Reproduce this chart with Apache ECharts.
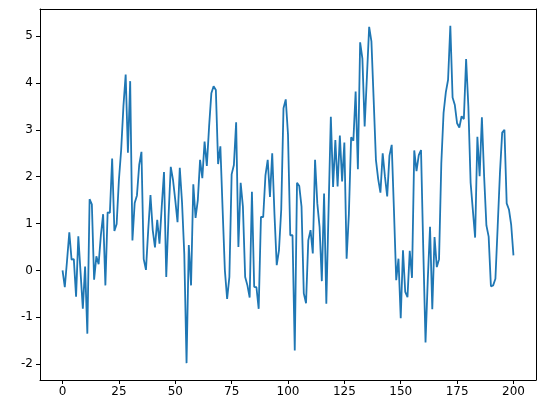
<!DOCTYPE html>
<html>
<head>
<meta charset="utf-8">
<script src="https://cdn.jsdelivr.net/npm/echarts@6/dist/echarts.min.js"></script>
<style>html,body{margin:0;padding:0;background:#fff}#c{width:546px;height:413px}</style>
</head>
<body>
<div id="c"></div>
<script>
const values = [
 0.0,-0.36,0.21,0.81,0.23,0.24,-0.56,0.73,-0.05,-0.82,
 0.08,-1.35,1.52,1.41,-0.2,0.3,0.13,0.75,1.2,-0.32,
 1.24,1.23,2.39,0.84,0.99,1.93,2.57,3.5,4.18,2.51,
 4.04,0.64,1.44,1.6,2.25,2.53,0.24,0.01,0.86,1.61,
 0.86,0.49,1.08,0.57,1.36,2.1,-0.14,1.14,2.21,1.93,
 1.5,1.03,2.19,1.45,0.35,-1.98,0.54,-0.32,1.84,1.12,
 1.5,2.36,1.97,2.75,2.23,3.07,3.78,3.93,3.85,2.27,
 2.65,1.3,0.0,-0.61,-0.14,2.05,2.25,3.16,0.5,1.87,
 1.36,-0.14,-0.32,-0.58,1.68,-0.35,-0.36,-0.82,1.14,1.14,
 2.03,2.36,1.57,2.5,1.2,0.11,0.43,1.3,3.46,3.65,
 2.9,0.75,0.75,-1.71,1.87,1.8,1.36,-0.49,-0.7,0.64,
 0.86,0.36,2.36,1.43,0.93,-0.23,1.64,-0.71,1.3,3.28,
 1.78,2.78,1.79,2.88,1.9,2.73,0.25,1.2,2.84,2.77,
 3.82,2.16,4.87,4.52,3.07,4.13,5.2,4.89,3.64,2.36,
 1.95,1.66,2.5,2.0,1.58,2.45,2.68,1.28,-0.21,0.25,
 -1.02,0.43,-0.46,-0.57,0.42,-0.16,2.56,2.12,2.46,2.57,
 0.45,-1.54,-0.2,0.93,-0.83,0.71,0.07,0.24,2.28,3.36,
 3.8,4.07,5.22,3.69,3.53,3.14,3.05,3.29,3.23,4.51,
 3.5,1.87,1.28,0.7,2.85,2.01,3.27,2.0,0.96,0.72,
 -0.34,-0.32,-0.18,0.93,2.07,2.94,3.0,1.43,1.3,0.97,
 0.32
];
const xTicks = [0, 25, 50, 75, 100, 125, 150, 175, 200];
const yTicks = [-2, -1, 0, 1, 2, 3, 4, 5];

const data = values.map((v, i) => [i, v]);
const chart = echarts.init(document.getElementById('c'), null, {renderer: 'canvas'});
const font = 'DejaVu Sans';
const X_MIN = -10, X_MAX = 210, Y_MIN = -2.34, Y_MAX = 5.58;
const spine = {show: true, onZero: false, lineStyle: {color: '#000', width: 1}};
const tick = {show: true, inside: false, length: 4, lineStyle: {color: '#000', width: 1}};
chart.setOption({
  animation: false,
  grid: {left: 40, right: 10, top: 9, bottom: 33},
  xAxis: [{
    type: 'value', min: X_MIN, max: X_MAX, position: 'bottom',
    axisLine: spine, splitLine: {show: false},
    axisTick: Object.assign({customValues: xTicks}, tick),
    axisLabel: {color: '#000', fontFamily: font, fontSize: 12, margin: 6, customValues: xTicks}
  }, {
    type: 'value', min: X_MIN, max: X_MAX, position: 'top',
    axisLine: spine, splitLine: {show: false}, axisTick: {show: false}, axisLabel: {show: false}
  }],
  yAxis: [{
    type: 'value', min: Y_MIN, max: Y_MAX, position: 'left',
    axisLine: spine, splitLine: {show: false},
    axisTick: Object.assign({customValues: yTicks}, tick),
    axisLabel: {color: '#000', fontFamily: font, fontSize: 12, margin: 7, customValues: yTicks}
  }, {
    type: 'value', min: Y_MIN, max: Y_MAX, position: 'right',
    axisLine: spine, splitLine: {show: false}, axisTick: {show: false}, axisLabel: {show: false}
  }],
  series: [{
    type: 'line', data: data, showSymbol: false, smooth: false,
    xAxisIndex: 0, yAxisIndex: 0,
    lineStyle: {color: '#1f77b4', width: 1.8},
    itemStyle: {color: '#1f77b4'}
  }]
});
</script>
</body>
</html>
